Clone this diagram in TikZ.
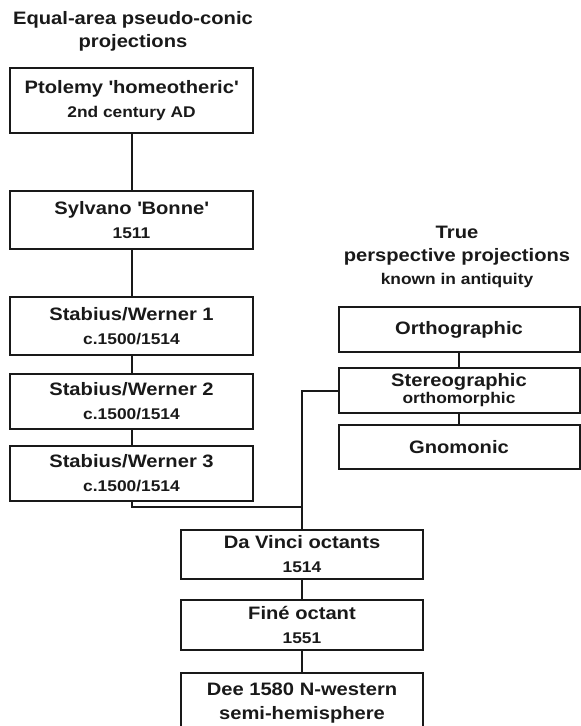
\documentclass[tikz,border=0pt]{standalone}
\usepackage{fontspec}
\newfontfamily\projfont{Liberation Sans}[FakeStretch=1.12]
\usetikzlibrary{positioning}
\newcommand{\datum}[1]{{\fontsize{15.5}{24}\selectfont #1}}

\begin{document}
\begin{tikzpicture}[
  x=1pt, y=-1pt,
  node distance=16pt,
  proj/.style={draw=black!90, line width=2pt, align=center, inner sep=0pt, minimum width=243pt, minimum height=58pt, text=black!90, font=\projfont\bfseries\fontsize{18}{24}\selectfont},
  persp/.style={proj, minimum width=241pt, minimum height=45pt},
  heading/.style={align=center, text=black!90, font=\projfont\bfseries\fontsize{18}{23}\selectfont},
  link/.style={draw=black!90, line width=2pt}
]
\useasboundingbox (0,0) rectangle (581,726);
% pseudo-conic column
\node[heading] (hleft) at (133,31.5) {Equal-area pseudo-conic\\projections};
\node[proj, minimum height=65pt] (ptol) at (131.5,100.5) {Ptolemy \textquotesingle homeotheric\textquotesingle\\\datum{2nd century AD}};
\node[proj, below=56pt of ptol] (bonne) {Sylvano \textquotesingle Bonne\textquotesingle\\\datum{1511}};
\node[proj, below=46pt of bonne] (sw1) {Stabius/Werner 1\\\datum{c.1500/1514}};
\node[proj, minimum height=55pt, below=17pt of sw1] (sw2) {Stabius/Werner 2\\\datum{c.1500/1514}};
\node[proj, minimum height=55pt, below=15pt of sw2] (sw3) {Stabius/Werner 3\\\datum{c.1500/1514}};
% perspective column
\node[heading] (hright) at (457,257) {True\\perspective projections\\\datum{known in antiquity}};
\node[persp] (ortho) at (459,329.5) {Orthographic};
\node[persp, below=14pt of ortho] (stereo) {Stereographic\\[-7pt]\datum{orthomorphic}};
\node[persp, minimum height=44pt, below=10pt of stereo] (gnom) {Gnomonic};
% octants
\node[proj, minimum width=242pt, minimum height=49pt] (vinci) at (302,554.5) {Da Vinci octants\\\datum{1514}};
\node[proj, minimum width=242pt, minimum height=50pt, below=19pt of vinci] (fine) {Finé octant\\\datum{1551}};
\node[proj, minimum width=242pt, minimum height=60pt, below=21pt of fine] (dee) {Dee 1580 N-western\\semi-hemisphere};
\coordinate[above=22pt of vinci] (j);
\draw[link] (ptol) -- (bonne);
\draw[link] (bonne) -- (sw1);
\draw[link] (sw1) -- (sw2);
\draw[link] (sw2) -- (sw3);
\draw[link] (ortho) -- (stereo);
\draw[link] (stereo) -- (gnom);
\draw[link] (sw3.south) |- (j) |- (stereo.west);
\draw[link] (j) -- (vinci.north);
\draw[link] (vinci) -- (fine);
\draw[link] (fine) -- (dee);
\end{tikzpicture}
\end{document}
